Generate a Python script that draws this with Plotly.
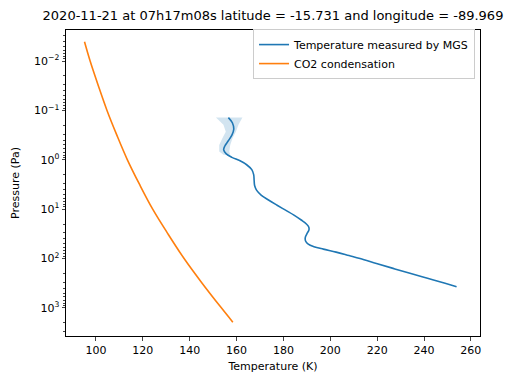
import plotly.graph_objects as go

# Measured temperature profile (MGS)
mgs_pressure = [0.1396, 0.1778, 0.2399, 0.3162, 0.4169, 0.5248, 0.6310, 0.7586, 0.8913, 1.047,
                1.259, 1.585, 1.995, 2.630, 3.311, 4.169, 5.248, 6.607, 8.318, 10.47,
                13.18, 16.60, 19.95, 22.91, 26.30, 31.62, 38.02, 44.67, 51.29, 57.54,
                64.57, 74.13, 87.10, 100.0, 125.9, 158.5, 199.5, 251.2, 316.2, 371.5]
mgs_temp = [156.5, 158.2, 158.8, 158.0, 156.4, 155.0, 154.5, 155.6, 158.0, 161.5,
            164.3, 166.5, 167.3, 167.5, 167.7, 168.6, 170.6, 173.8, 177.3, 180.9,
            184.5, 187.6, 189.8, 190.8, 190.9, 190.0, 189.3, 189.5, 190.6, 193.0,
            197.0, 202.5, 208.0, 212.7, 219.7, 226.8, 234.0, 241.5, 249.0, 253.9]

# Uncertainty band near the top of the profile
band_pressure = [0.1396, 0.195, 0.269, 0.363, 0.501, 0.676, 0.794]
band_low = [151.2, 154.4, 155.4, 154.0, 152.6, 152.6, 154.4]
band_high = [162.5, 160.8, 159.7, 158.3, 157.3, 156.9, 157.3]

# CO2 condensation curve
co2_pressure = [0.00407, 0.01, 0.0316, 0.1, 0.316, 1.0, 3.16, 10.0, 31.6, 100.0, 316.0, 1000.0, 1950.0]
co2_temp = [95.1, 97.5, 101.0, 104.7, 108.9, 113.4, 118.6, 124.2, 130.7, 137.6, 145.3, 153.5, 158.4]

x_ticks = [100, 120, 140, 160, 180, 200, 220, 240, 260]
y_ticks = [0.01, 0.1, 1, 10, 100, 1000]
y_ticktext = ["10<sup>\u22122</sup>", "10<sup>\u22121</sup>", "10<sup>0</sup>",
              "10<sup>1</sup>", "10<sup>2</sup>", "10<sup>3</sup>"]

title = "2020-11-21 at 07h17m08s latitude = -15.731 and longitude = -89.969"

BLUE = "#1f77b4"
ORANGE = "#ff7f0e"

fig = go.Figure()
fig.add_trace(go.Scatter(
    x=band_high + band_low[::-1],
    y=band_pressure + band_pressure[::-1],
    fill="toself", fillcolor="rgba(31,119,180,0.2)",
    line=dict(width=0), mode="lines", showlegend=False, hoverinfo="skip",
))
fig.add_trace(go.Scatter(
    x=mgs_temp, y=mgs_pressure, mode="lines",
    line=dict(color=BLUE, width=1.6, shape="spline", smoothing=1.0),
    name="Temperature measured by MGS",
))
fig.add_trace(go.Scatter(
    x=co2_temp, y=co2_pressure, mode="lines",
    line=dict(color=ORANGE, width=1.6, shape="spline", smoothing=1.0),
    name="CO2 condensation",
))

font = "DejaVu Sans"
fig.update_layout(
    width=518, height=375,
    margin=dict(l=66, r=38, t=29.5, b=39),
    paper_bgcolor="white", plot_bgcolor="white",
    font=dict(family=font, size=11, color="black"),
    title=dict(text=title, x=0.527, xanchor="center", y=0.958, yanchor="middle",
               font=dict(size=13, family=font, color="black")),
    legend=dict(x=0.988, y=1.003, xanchor="right", yanchor="top",
                bordercolor="#cccccc", borderwidth=1, bgcolor="rgba(255,255,255,0.8)",
                font=dict(size=11, family=font), itemwidth=30,
                tracegroupgap=0),
    showlegend=True,
)
fig.update_xaxes(
    range=[87.2, 263.9], tickvals=x_ticks, ticks="outside", ticklen=3.5,
    showgrid=False, zeroline=False, showline=True, mirror=True,
    linecolor="black", linewidth=1, automargin=False,
    title=dict(text="Temperature (K)", standoff=6, font=dict(size=11)),
    tickfont=dict(size=11),
)
fig.update_yaxes(
    type="log", range=[3.57, -2.63], tickvals=y_ticks, ticktext=y_ticktext,
    ticks="outside", ticklen=3.5, showgrid=False, zeroline=False,
    showline=True, mirror=True, linecolor="black", linewidth=1, automargin=False,
    minor=dict(ticks="outside", ticklen=2, dtick="D1", showgrid=False),
    title=dict(text="Pressure (Pa)", standoff=12, font=dict(size=11)),
    tickfont=dict(size=11),
)

fig.write_html("out.html")
